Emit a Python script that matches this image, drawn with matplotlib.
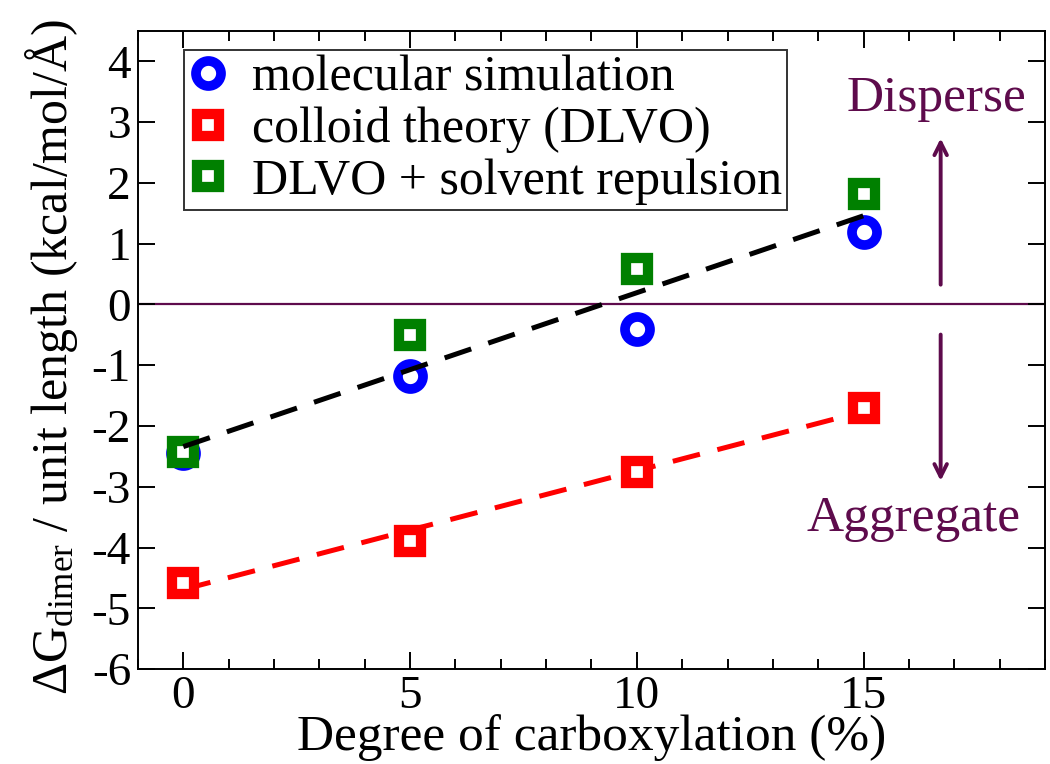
import numpy as np
import matplotlib.pyplot as plt
from matplotlib.ticker import MultipleLocator

plt.rcParams['font.family'] = ['Liberation Serif', 'DejaVu Serif']
plt.rcParams['mathtext.fontset'] = 'custom'
plt.rcParams['mathtext.rm'] = 'Liberation Serif'
plt.rcParams['mathtext.it'] = 'Liberation Serif:italic'
plt.rcParams['axes.unicode_minus'] = False

# data
carboxylation = [0, 5, 10, 15]
md_sim = [-2.44, -1.18, -0.41, 1.19]
dlvo = [-4.58, -3.90, -2.76, -1.71]
dlvo_solvent = [-2.42, -0.50, 0.59, 1.82]

# fitted trend lines (end points)
fit_x = [0, 15]
black_fit = [-2.34, 1.46]
red_fit = [-4.69, -1.76]

purple = '#5e0b4c'

fig = plt.figure(figsize=(10.5, 7.64), dpi=100)
ax = fig.add_axes([0.1314, 0.1243, 0.8638, 0.8351])

ax.axhline(0, color=purple, lw=1.6, zorder=1)

ax.plot(fit_x, black_fit, color='black', lw=3.6, dashes=(5.6, 3.6), zorder=4)
ax.plot(fit_x, red_fit, color='red', lw=3.6, dashes=(5.6, 3.6), zorder=2)

mk = dict(ls='none', markerfacecolor='white', zorder=3)
ax.plot(carboxylation, md_sim, marker='o', ms=18, mew=7,
        markeredgecolor='blue', label='molecular simulation', **mk)
ax.plot(carboxylation, dlvo, marker='s', ms=16.5, mew=7.4,
        markeredgecolor='red', label='colloid theory (DLVO)', **mk)
ax.plot(carboxylation, dlvo_solvent, marker='s', ms=16.5, mew=7.4,
        markeredgecolor='green', label='DLVO + solvent repulsion', **mk)

# arrows + annotations
ax.annotate('', xy=(16.7, 2.78), xytext=(16.7, 0.28),
            arrowprops=dict(arrowstyle='->,head_length=0.9,head_width=0.45',
                            color=purple, lw=2.8))
ax.annotate('', xy=(16.7, -2.95), xytext=(16.7, -0.45),
            arrowprops=dict(arrowstyle='->,head_length=0.9,head_width=0.45',
                            color=purple, lw=2.8))
ax.text(16.6, 3.38, 'Disperse', color=purple, fontsize=37,
        ha='center', va='center')
ax.text(16.1, -3.52, 'Aggregate', color=purple, fontsize=37,
        ha='center', va='center')

ax.set_xlim(-1, 19)
ax.set_ylim(-6, 4.5)
ax.xaxis.set_major_locator(MultipleLocator(5))
ax.xaxis.set_minor_locator(MultipleLocator(1))
ax.yaxis.set_major_locator(MultipleLocator(1))
ax.tick_params(which='both', direction='in', top=True, right=True,
               width=1.4, labelsize=34)
ax.tick_params(which='major', length=12, pad=5)
ax.tick_params(which='minor', length=7)
ax.tick_params(axis='y', pad=5)
for s in ax.spines.values():
    s.set_linewidth(1.4)

ax.set_xlabel('Degree of carboxylation (%)', fontsize=37, labelpad=-3)
ax.set_ylabel(r'$\Delta$G$_{\mathrm{dimer}}$ / unit length (kcal/mol/Å)',
              fontsize=36)
ax.yaxis.set_label_coords(-0.064, 0.49)

leg = ax.legend(loc='upper left', bbox_to_anchor=(0.051, 0.97), fontsize=36,
                frameon=True, fancybox=False, edgecolor='black',
                handlelength=0.75, handletextpad=0.5, labelspacing=0.1,
                borderpad=0.1, borderaxespad=0, markerscale=1.0)
leg.get_frame().set_linewidth(1.4)

fig.savefig('out.png', dpi=100)
